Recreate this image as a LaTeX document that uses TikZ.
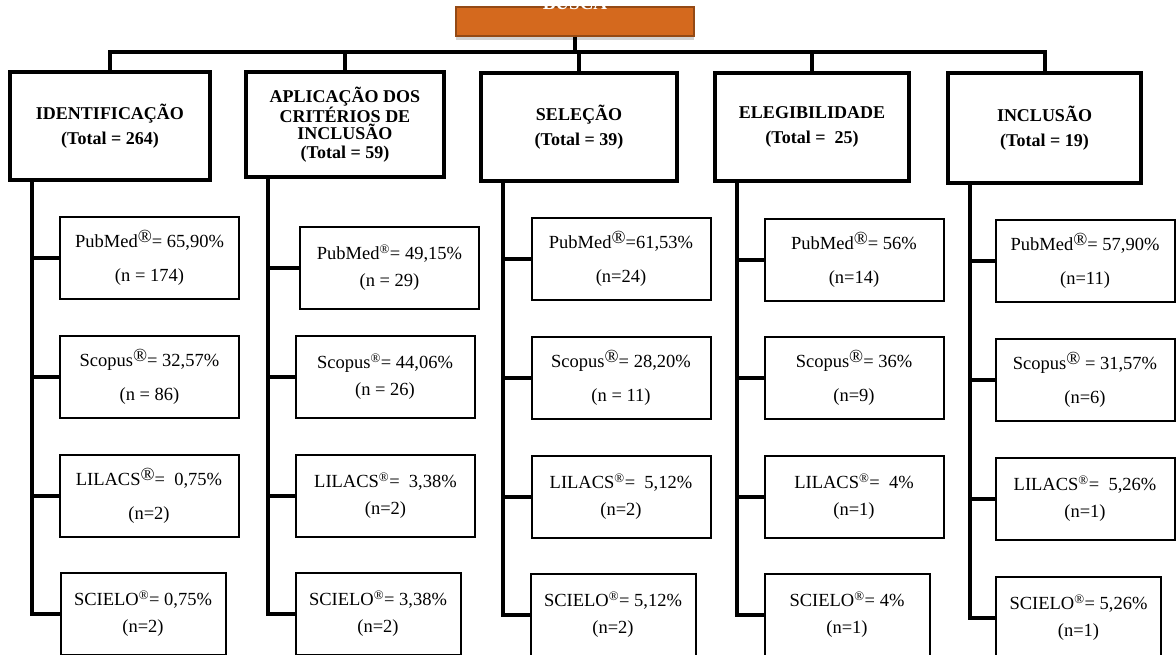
\documentclass[tikz,border=0pt]{standalone}
\usepackage{fontspec}
\setmainfont{Liberation Serif}
\usepackage{tikz}
\usetikzlibrary{shadows}
\definecolor{buscaorange}{RGB}{212,105,30}
\newcommand{\regbig}{\raisebox{5pt}{®}}
\newcommand{\regsm}{\textsuperscript{®}}

\begin{document}
\begin{tikzpicture}[x=1pt,y=-1pt,
  head/.style={draw,line width=4pt,outer sep=0pt,align=center,inner sep=2pt,
    font=\fontsize{18}{17}\selectfont\bfseries},
  sub/.style={draw,line width=2pt,outer sep=0pt,align=center,inner sep=2pt,
    minimum width=179pt,minimum height=82pt,font=\fontsize{18.5}{27}\selectfont},
  subnarrow/.style={sub,minimum width=165pt},
  link/.style={line width=4pt}]
  \useasboundingbox (0,0) rectangle (1176,654);
  \clip (0,0) rectangle (1176,654);
  \fill[white] (0,0) rectangle (1176,654);

  % search box, cut by the top edge
  \node[fill=buscaorange,draw=buscaorange!70!black,line width=1.5pt,
    minimum width=238pt,minimum height=29pt,
    drop shadow={shadow xshift=0pt,shadow yshift=-4pt,opacity=0.35}]
    (busca) at (575,21.5) {};
  \node[anchor=base,text=white,font=\fontsize{19}{19}\selectfont\bfseries]
    (buscatxt) at (575,9) {BUSCA};

  % stages
  \node[head,minimum width=200pt,minimum height=108pt] (h1) at (110,126)
    {IDENTIFICAÇÃO\\[8pt](Total = 264)};
  \node[head,minimum width=198pt,minimum height=105pt] (h2) at (345,124.5)
    {APLICAÇÃO DOS\\CRITÉRIOS DE\\INCLUSÃO\\[2pt](Total = 59)};
  \node[head,minimum width=196pt,minimum height=108pt] (h3) at (579,127)
    {SELEÇÃO\\[8pt](Total = 39)};
  \node[head,minimum width=194pt,minimum height=108pt] (h4) at (812,127)
    {ELEGIBILIDADE\\[8pt](Total =\ \ 25)};
  \node[head,minimum width=193pt,minimum height=110pt] (h5) at (1044.5,128)
    {INCLUSÃO\\[8pt](Total = 19)};

  % databases
  \node[sub] (c1a) at (149.5,258) {PubMed\regbig= 65,90\%\\[7pt](n = 174)};
  \node[sub] (c1b) at (149.5,377) {Scopus\regbig= 32,57\%\\[7pt](n = 86)};
  \node[sub] (c1c) at (149,495.5) {LILACS\regbig=\ \ 0,75\%\\[7pt](n=2)};
  \node[subnarrow] (c1d) at (143,614) {SCIELO\regsm= 0,75\%\\(n=2)};

  \node[sub] (c2a) at (389.5,268) {PubMed\regsm= 49,15\%\\(n = 29)};
  \node[sub] (c2b) at (385,376.5) {Scopus\regsm= 44,06\%\\(n = 26)};
  \node[sub] (c2c) at (385.5,495.5) {LILACS\regsm=\ \ 3,38\%\\(n=2)};
  \node[subnarrow] (c2d) at (378,614) {SCIELO\regsm= 3,38\%\\(n=2)};

  \node[sub] (c3a) at (621,259) {PubMed\regbig=61,53\%\\[7pt](n=24)};
  \node[sub] (c3b) at (621,378) {Scopus\regbig= 28,20\%\\[7pt](n = 11)};
  \node[sub] (c3c) at (621,496.5) {LILACS\regsm=\ \ 5,12\%\\(n=2)};
  \node[subnarrow] (c3d) at (613,615) {SCIELO\regsm= 5,12\%\\(n=2)};

  \node[sub] (c4a) at (854,259.5) {PubMed\regbig= 56\%\\[7pt](n=14)};
  \node[sub] (c4b) at (854,378) {Scopus\regbig= 36\%\\[7pt](n=9)};
  \node[sub] (c4c) at (854,497) {LILACS\regsm=\ \ 4\%\\(n=1)};
  \node[subnarrow] (c4d) at (847,615) {SCIELO\regsm= 4\%\\(n=1)};

  \node[sub] (c5a) at (1085,261) {PubMed\regbig= 57,90\%\\[7pt](n=11)};
  \node[sub] (c5b) at (1085,380) {Scopus\regbig\ = 31,57\%\\[7pt](n=6)};
  \node[sub] (c5c) at (1085,499) {LILACS\regsm=\ \ 5,26\%\\(n=1)};
  \node[subnarrow] (c5d) at (1078.5,618) {SCIELO\regsm= 5,26\%\\(n=1)};

  % tree
  \coordinate (hub) at (576,52);
  \draw[link] (busca.south) -- (busca.south |- hub);
  \draw[link] (h1.north) |- (hub) -| (h5.north);
  \draw[link] (hub -| h2.north) -- (h2.north);
  \draw[link] (hub -| h3.north) -- (h3.north);
  \draw[link] (hub -| h4.north) -- (h4.north);

  \coordinate (t1) at ([xshift=22pt]h1.south west);
  \coordinate (t2) at ([xshift=22pt]h2.south west);
  \coordinate (t3) at ([xshift=22pt]h3.south west);
  \coordinate (t4) at ([xshift=22pt]h4.south west);
  \coordinate (t5) at ([xshift=22pt]h5.south west);
  \draw[link] (t1) |- (c1a.west) (t1) |- (c1b.west) (t1) |- (c1c.west) (t1) |- (c1d.west);
  \draw[link] (t2) |- (c2a.west) (t2) |- (c2b.west) (t2) |- (c2c.west) (t2) |- (c2d.west);
  \draw[link] (t3) |- (c3a.west) (t3) |- (c3b.west) (t3) |- (c3c.west) (t3) |- (c3d.west);
  \draw[link] (t4) |- (c4a.west) (t4) |- (c4b.west) (t4) |- (c4c.west) (t4) |- (c4d.west);
  \draw[link] (t5) |- (c5a.west) (t5) |- (c5b.west) (t5) |- (c5c.west) (t5) |- (c5d.west);
\end{tikzpicture}
\end{document}
